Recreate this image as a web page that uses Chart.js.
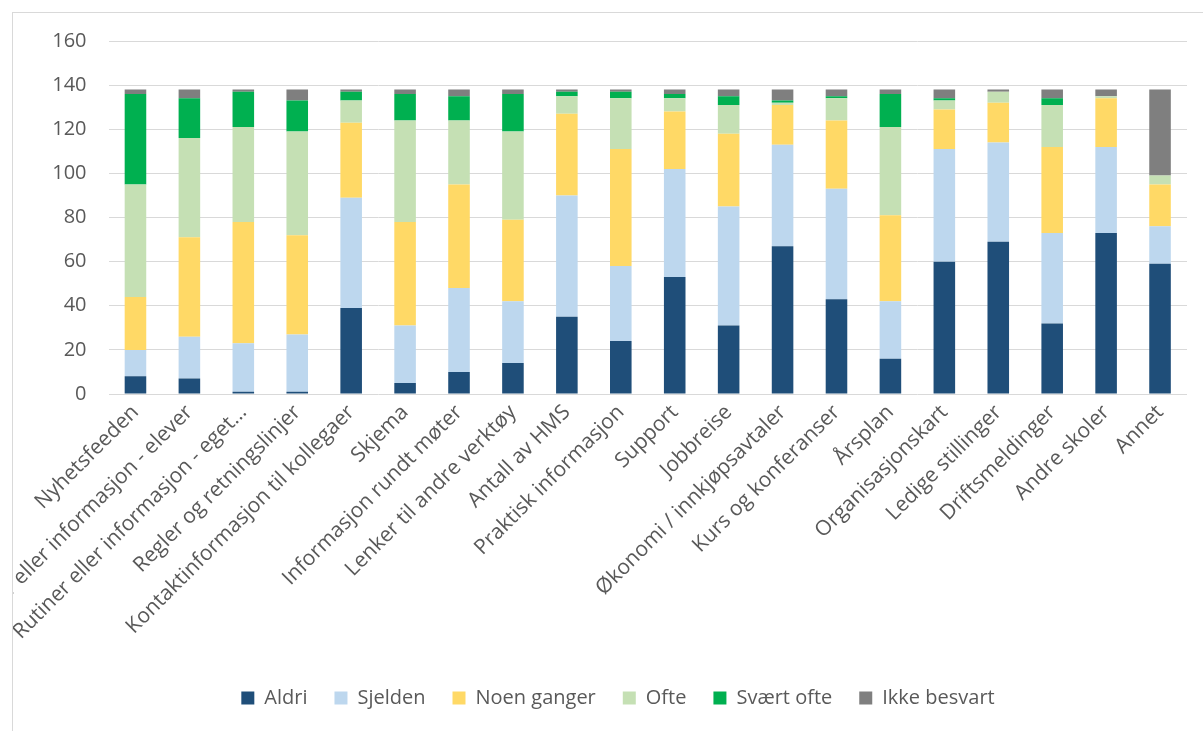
<!DOCTYPE html>
<html>
<head>
<meta charset="utf-8">
<script src="https://cdn.jsdelivr.net/npm/chart.js@4"></script>
<style>
  html, body { margin: 0; padding: 0; background: #fff; overflow: hidden; width: 1203px; height: 731px; }
  #ramme {
    position: absolute; left: 12px; top: 12px; width: 1300px; height: 800px;
    border-left: 1px solid #d9d9d9; border-top: 1px solid #d9d9d9; overflow: hidden;
  }
  #diagram { position: absolute; left: 0; top: 0; }
</style>
</head>
<body>
<div id="ramme"><canvas id="diagram" width="1210" height="718"></canvas></div>
<script>
// Kategorier (x-aksen)
const kategorier = [
  'Nyhetsfeeden', 'Rutiner eller informasjon - elever', 'Rutiner eller informasjon - eget…',
  'Regler og retningslinjer', 'Kontaktinformasjon til kollegaer', 'Skjema',
  'Informasjon rundt møter', 'Lenker til andre verktøy', 'Antall av HMS',
  'Praktisk informasjon', 'Support', 'Jobbreise', 'Økonomi / innkjøpsavtaler',
  'Kurs og konferanser', 'Årsplan', 'Organisasjonskart', 'Ledige stillinger',
  'Driftsmeldinger', 'Andre skoler', 'Annet'
];

// Antall svar per kategori
const aldri   = [8, 7, 1, 1, 39, 5, 10, 14, 35, 24, 53, 31, 67, 43, 16, 60, 69, 32, 73, 59];
const sjelden = [12, 19, 22, 26, 50, 26, 38, 28, 55, 34, 49, 54, 46, 50, 26, 51, 45, 41, 39, 17];
const noenGanger = [24, 45, 55, 45, 34, 47, 47, 37, 37, 53, 26, 33, 18, 31, 39, 18, 18, 39, 22, 19];
const ofte    = [51, 45, 43, 47, 10, 46, 29, 40, 8, 23, 6, 13, 1, 10, 40, 4, 5, 19, 1, 4];
const svaertOfte = [41, 18, 16, 14, 4, 12, 11, 17, 2, 3, 2, 4, 1, 1, 15, 1, 0, 3, 0, 0];
const ikkeBesvart = [2, 4, 1, 5, 1, 2, 3, 2, 1, 1, 2, 3, 5, 3, 2, 4, 1, 4, 3, 39];

const yTicks = [0, 20, 40, 60, 80, 100, 120, 140, 160];

const tekstFarge = '#595959';
const skrift = { family: "'Open Sans', sans-serif", size: 20 };

function serie(navn, data, farge) {
  return {
    label: navn,
    data: data,
    backgroundColor: farge,
    borderWidth: 0,
    categoryPercentage: 0.8,
    barPercentage: 0.5
  };
}

new Chart(document.getElementById('diagram'), {
  type: 'bar',
  data: {
    labels: kategorier,
    datasets: [
      serie('Aldri', aldri, '#1f4e79'),
      serie('Sjelden', sjelden, '#bdd7ee'),
      serie('Noen ganger', noenGanger, '#ffd966'),
      serie('Ofte', ofte, '#c5e0b4'),
      serie('Svært ofte', svaertOfte, '#00b050'),
      serie('Ikke besvart', ikkeBesvart, '#7f7f7f')
    ]
  },
  options: {
    responsive: false,
    animation: false,
    devicePixelRatio: 1,
    layout: { padding: { top: 20, left: 0, right: 0, bottom: 13 } },
    plugins: {
      tooltip: { enabled: false },
      legend: {
        position: 'bottom',
        labels: {
          boxWidth: 13,
          boxHeight: 13,
          padding: 27,
          color: tekstFarge,
          font: skrift
        }
      }
    },
    scales: {
      x: {
        stacked: true,
        grid: { display: false, drawTicks: false },
        border: { display: false },
        ticks: {
          autoSkip: false,
          minRotation: 45,
          maxRotation: 45,
          padding: 6,
          color: tekstFarge,
          font: { family: "'Open Sans', sans-serif", size: 21 }
        },
        afterFit(scale) { scale.height = 267; }
      },
      y: {
        stacked: true,
        min: 0,
        max: 160,
        grid: { color: '#d9d9d9', lineWidth: 1, drawTicks: true, tickLength: 6, tickColor: 'rgba(0,0,0,0)' },
        border: { display: false },
        afterBuildTicks(scale) { scale.ticks = yTicks.map(v => ({ value: v })); },
        ticks: {
          padding: 16,
          color: tekstFarge,
          font: skrift
        },
        afterFit(scale) { scale.width = 95.5; }
      },
      hoyre: {
        position: 'right',
        display: true,
        grid: { display: false, drawTicks: false },
        border: { display: false },
        ticks: { display: false },
        afterFit(scale) { scale.width = 36; }
      }
    }
  }
});
</script>
</body>
</html>
